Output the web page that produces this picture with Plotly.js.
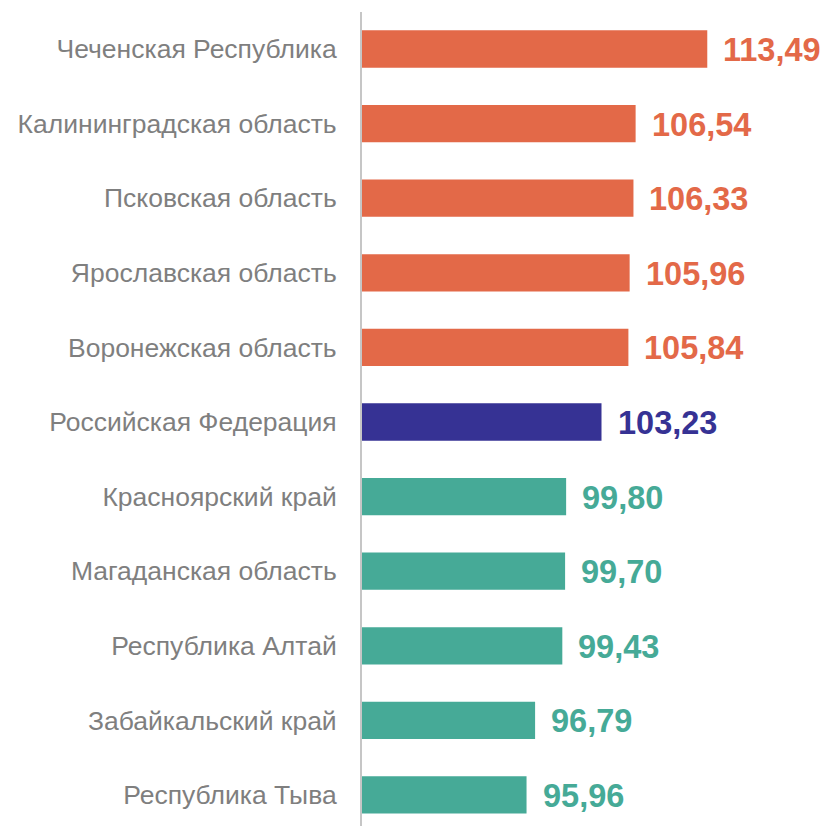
<!DOCTYPE html>
<html>
<head>
<meta charset="utf-8">
<script src="https://cdn.plot.ly/plotly-3.0.1.min.js"></script>
<style>html,body{margin:0;padding:0;background:#fff;}#chart{width:828px;height:826px;}</style>
</head>
<body>
<div id="chart"></div>
<script>
const categories = [
  "Чеченская Республика",
  "Калининградская область",
  "Псковская область",
  "Ярославская область",
  "Воронежская область",
  "Российская Федерация",
  "Красноярский край",
  "Магаданская область",
  "Республика Алтай",
  "Забайкальский край",
  "Республика Тыва"
];
const values = [113.49, 106.54, 106.33, 105.96, 105.84, 103.23, 99.80, 99.70, 99.43, 96.79, 95.96];
const groups = ["high","high","high","high","high","rf","low","low","low","low","low"];
const palette = {high: "#E36948", rf: "#363294", low: "#46AA97"};
const barColors = groups.map(g => palette[g]);
const baseValue = 80;

const fmt = v => v.toFixed(2).replace('.', ',');

const trace = {
  type: 'bar',
  orientation: 'h',
  y: categories,
  x: values.map(v => v - baseValue),
  base: baseValue,
  marker: {color: barColors},
  width: 0.5,
  hoverinfo: 'skip'
};

const annotations = categories.map((c, i) => ({
  x: values[i],
  y: c,
  xref: 'x',
  yref: 'y',
  text: fmt(values[i]),
  showarrow: false,
  xanchor: 'left',
  yanchor: 'middle',
  xshift: 14,
  yshift: -1,
  font: {family: 'Liberation Sans, Arial, sans-serif', size: 32.5, color: barColors[i], weight: 700}
}));

const layout = {
  width: 828,
  height: 826,
  margin: {l: 362, r: 0, t: 12, b: 0, pad: 0},
  paper_bgcolor: '#ffffff',
  plot_bgcolor: '#ffffff',
  showlegend: false,
  xaxis: {
    range: [80, 125.2],
    showgrid: false,
    zeroline: false,
    showline: false,
    showticklabels: false,
    ticks: ''
  },
  yaxis: {
    type: 'category',
    range: [10.416, -0.496],
    showgrid: false,
    zeroline: false,
    showline: true,
    linecolor: '#c6c6c6',
    linewidth: 2,
    ticks: '',
    ticklabelstandoff: 18,
    tickfont: {family: 'Liberation Sans, Arial, sans-serif', size: 26.5, color: '#7f7f7f'}
  },
  annotations: annotations
};

Plotly.newPlot('chart', [trace], layout, {displayModeBar: false, staticPlot: true});
</script>
</body>
</html>
